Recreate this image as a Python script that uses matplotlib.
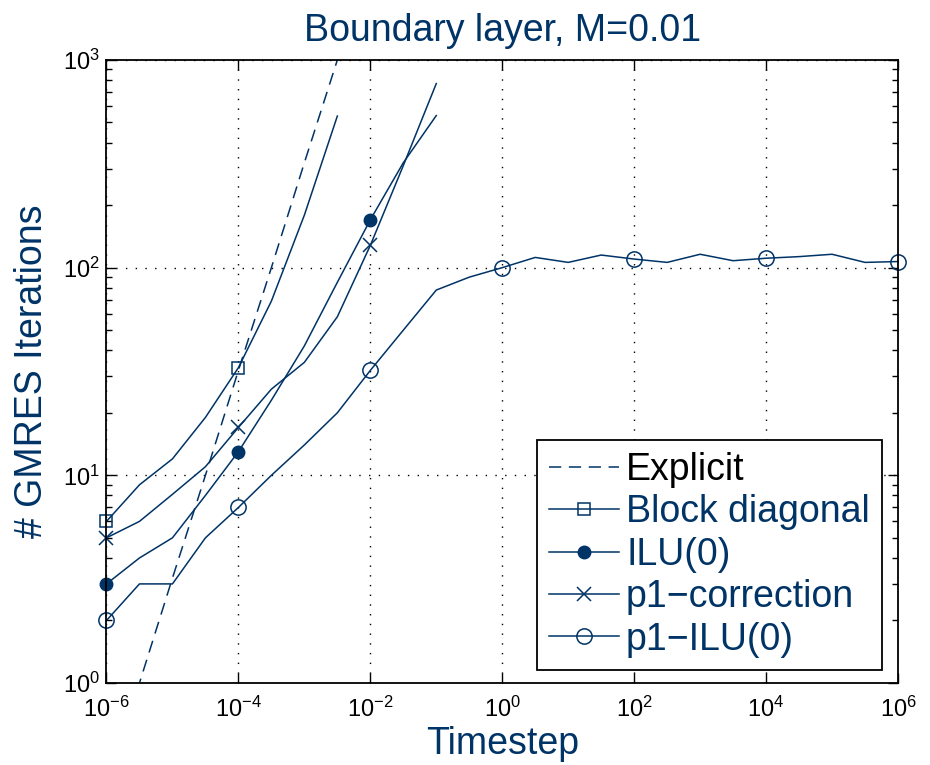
import matplotlib
matplotlib.use("Agg")
import matplotlib.pyplot as plt
import numpy as np
from matplotlib.ticker import LogLocator, NullFormatter, NullLocator

plt.rcParams['font.family'] = ['Liberation Sans', 'DejaVu Sans']
plt.rcParams['mathtext.fontset'] = 'custom'
plt.rcParams['mathtext.rm'] = 'Liberation Sans'
plt.rcParams['mathtext.it'] = 'Liberation Sans:italic'
plt.rcParams['mathtext.bf'] = 'Liberation Sans:bold'

# 数据（log10 时间步长，半个量级一个点）
log_dt_explicit = [-6, -5.5, -5, -4.5, -4, -3.5, -3, -2.5]
iters_explicit = [0.32, 1.0, 3.2, 10, 32, 100, 320, 1000]

log_dt_block = [-6, -5.5, -5, -4.5, -4, -3.5, -3, -2.5]
iters_block = [6, 9, 12, 19, 33, 69, 179, 537]

log_dt_ilu = [-6, -5.5, -5, -4.5, -4, -3.5, -3, -2.5, -2, -1.5, -1]
iters_ilu = [3, 4, 5, 8, 13, 23, 42, 85, 170, 320, 540]

log_dt_p1corr = [-6, -5.5, -5, -4.5, -4, -3.5, -3, -2.5, -2, -1.5, -1]
iters_p1corr = [5, 6, 8.1, 11, 17, 26, 35, 58, 128, 310, 770]

log_dt_p1ilu = [-6, -5.5, -5, -4.5, -4, -3.5, -3, -2.5, -2, -1.5, -1, -0.5,
                0, 0.5, 1, 1.5, 2, 2.5, 3, 3.5, 4, 4.5, 5, 5.5, 6]
iters_p1ilu = [2, 3, 3, 5, 7, 10, 14, 20, 32, 50, 78, 90,
               100, 112, 106, 115, 110, 106, 116, 108, 111, 113, 116, 106, 107]

labels = ['Explicit', 'Block diagonal', 'ILU(0)', 'p1\u2212correction', 'p1\u2212ILU(0)']
navy = '#003366'

fig = plt.figure(figsize=(9.3, 7.65), dpi=100)
ax = fig.add_axes([0.1145, 0.1072, 0.8511, 0.8144])

lw = 1.1
ax.plot(10.0 ** np.array(log_dt_explicit), iters_explicit, '--', color=navy,
        lw=lw, dashes=(8, 5), label=labels[0])
ax.plot(10.0 ** np.array(log_dt_block), iters_block, '-', color=navy, lw=lw,
        marker='s', ms=8.5, mfc='none', mew=1.1, markevery=4, clip_on=False,
        label=labels[1])
ax.plot(10.0 ** np.array(log_dt_ilu), iters_ilu, '-', color=navy, lw=lw,
        marker='o', ms=9, mfc=navy, markevery=4, clip_on=False,
        label=labels[2])
ax.plot(10.0 ** np.array(log_dt_p1corr), iters_p1corr, '-', color=navy, lw=lw,
        marker='x', ms=10, mew=1.1, markevery=4, clip_on=False,
        label=labels[3])
ax.plot(10.0 ** np.array(log_dt_p1ilu), iters_p1ilu, '-', color=navy, lw=lw,
        marker='o', ms=11, mfc='none', mew=1.1, markevery=4, clip_on=False,
        label=labels[4])

ax.set_xscale('log')
ax.set_yscale('log')
ax.set_xlim(1e-6, 1e6)
ax.set_ylim(1, 1000)

ax.set_xticks([1e-6, 1e-4, 1e-2, 1e0, 1e2, 1e4, 1e6])
ax.xaxis.set_minor_locator(NullLocator())
ax.yaxis.set_minor_locator(LogLocator(base=10, subs=np.arange(2, 10)))
ax.yaxis.set_minor_formatter(NullFormatter())

ax.tick_params(which='both', direction='in', top=True, right=True)
ax.tick_params(which='major', length=7, width=1, labelsize=17)
ax.tick_params(axis='x', which='major', pad=10)
ax.tick_params(axis='y', which='major', pad=5)
ax.tick_params(which='minor', length=4, width=1)
for s in ax.spines.values():
    s.set_linewidth(1.3)

ax.grid(True, which='major', linestyle=(0, (1, 6)), color='black', lw=1.0)

ax.set_title('Boundary layer, M=0.01', fontsize=27, color=navy, pad=14)
ax.set_xlabel('Timestep', fontsize=27, color=navy, labelpad=3)
ax.set_ylabel('# GMRES Iterations', fontsize=27, color=navy, labelpad=9)

leg = ax.legend(loc='lower right', bbox_to_anchor=(0.98, 0.021), fontsize=27,
                fancybox=False, framealpha=1, edgecolor='black',
                handlelength=1.85, handletextpad=0.2, labelspacing=0.17,
                borderpad=0.33, borderaxespad=0)
leg.get_frame().set_linewidth(1.3)
for i, t in enumerate(leg.get_texts()):
    t.set_color('black' if i == 0 else navy)

fig.savefig('out.png', dpi=100)
